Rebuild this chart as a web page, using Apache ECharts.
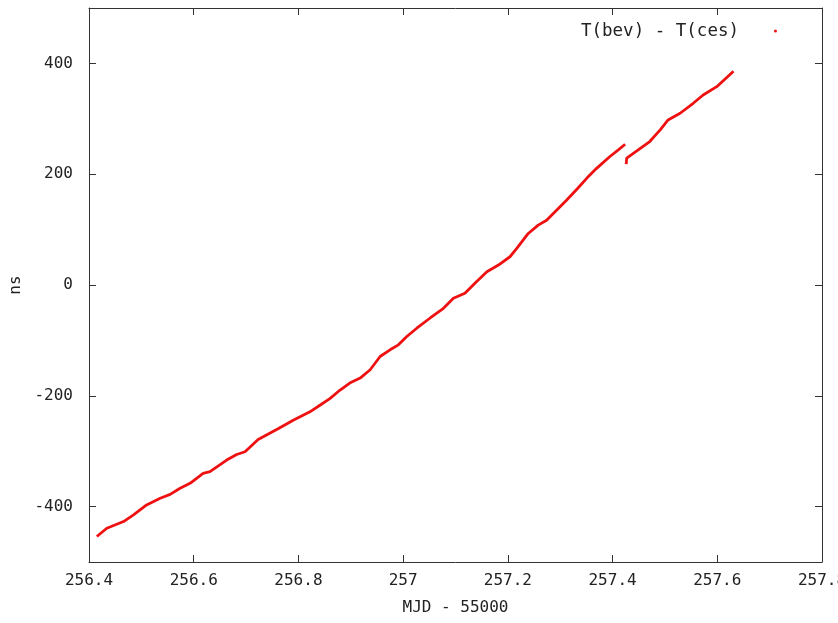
<!DOCTYPE html>
<html>
<head>
<meta charset="utf-8">
<title>T(bev) - T(ces)</title>
<script src="https://cdn.jsdelivr.net/npm/echarts@6/dist/echarts.min.js"></script>
<style>
  html, body { margin: 0; padding: 0; background: #fff; }
  #chart { width: 838px; height: 623px; }
</style>
</head>
<body>
<div id="chart"></div>
<script>
// Time offset between the two clocks, MJD - 55000 vs ns
const seriesName = 'T(bev) - T(ces)';

// First stretch, up to the step at ~257.42
const mjdA = [
  256.415, 256.434, 256.466, 256.485, 256.510, 256.536, 256.555, 256.574,
  256.593, 256.618, 256.631, 256.663, 256.682, 256.698, 256.723, 256.762,
  256.790, 256.822, 256.841, 256.860, 256.879, 256.898, 256.918, 256.937,
  256.956, 256.975, 256.991, 257.007, 257.026, 257.051, 257.077, 257.096,
  257.118, 257.140, 257.160, 257.182, 257.204, 257.217, 257.239, 257.258,
  257.274, 257.293, 257.312, 257.334, 257.351, 257.370, 257.395, 257.411,
  257.424
];
const nsA = [
  -454, -439, -427, -415, -397, -385, -378, -367,
  -358, -340, -337, -316, -306, -301, -279, -259,
  -244, -229, -217, -205, -190, -177, -168, -153,
  -129, -117, -108, -93, -78, -60, -42, -24,
  -15, 6, 24, 36, 51, 66, 93, 108,
  117, 135, 153, 175, 193, 211, 232, 244,
  254
];

// Second stretch, after the step
const mjdB = [
  257.426, 257.427, 257.449, 257.471, 257.491, 257.506, 257.529, 257.554,
  257.573, 257.599, 257.631
];
const nsB = [
  218, 229, 244, 259, 280, 298, 310, 328,
  343, 358, 386
];

const xTicks = [256.4, 256.6, 256.8, 257, 257.2, 257.4, 257.6, 257.8];
const yTicks = [-400, -200, 0, 200, 400];

// Build the plotted pairs; a null breaks the line at the step
const points = [];
mjdA.forEach((x, i) => points.push([x, nsA[i]]));
points.push([257.425, null]);
mjdB.forEach((x, i) => points.push([x, nsB[i]]));

const FONT = 'DejaVu Sans Mono';
const TXT = '#222';
const AXIS = '#333';

const chart = echarts.init(document.getElementById('chart'), null, { renderer: 'canvas' });

const xBase = {
  type: 'value',
  min: 256.4,
  max: 257.8,
  axisLine: { show: true, onZero: false, lineStyle: { color: AXIS, width: 1 } },
  axisTick: { show: true, inside: true, length: 7, lineStyle: { color: AXIS }, customValues: xTicks },
  splitLine: { show: false }
};
const yBase = {
  type: 'value',
  min: -500,
  max: 500,
  axisLine: { show: true, onZero: false, lineStyle: { color: AXIS, width: 1 } },
  axisTick: { show: true, inside: true, length: 7, lineStyle: { color: AXIS }, customValues: yTicks },
  splitLine: { show: false }
};

chart.setOption({
  animation: false,
  backgroundColor: '#ffffff',
  grid: { left: 89, right: 16, top: 8, bottom: 61, outerBoundsMode: 'none', containLabel: false },
  legend: {
    data: [seriesName],
    right: 56,
    top: 17,
    align: 'right',
    icon: 'circle',
    itemWidth: 3,
    itemHeight: 3,
    textStyle: { fontFamily: FONT, fontSize: 17.5, color: TXT, padding: [0, 30, 0, 0] }
  },
  xAxis: [
    Object.assign({}, xBase, {
      position: 'bottom',
      name: 'MJD - 55000',
      nameLocation: 'middle',
      nameGap: 38,
      nameTextStyle: { fontFamily: FONT, fontSize: 16, color: TXT },
      axisLabel: {
        show: true, margin: 11, customValues: xTicks,
        fontFamily: FONT, fontSize: 16, color: TXT,
        formatter: v => String(parseFloat(v.toFixed(1)))
      }
    }),
    Object.assign({}, xBase, { position: 'top', axisLabel: { show: false } })
  ],
  yAxis: [
    Object.assign({}, yBase, {
      position: 'left',
      name: 'ns',
      nameLocation: 'middle',
      nameGap: 59,
      nameRotate: 90,
      nameTextStyle: { fontFamily: FONT, fontSize: 16, color: TXT },
      axisLabel: {
        show: true, margin: 16, customValues: yTicks,
        fontFamily: FONT, fontSize: 16, color: TXT
      }
    }),
    Object.assign({}, yBase, { position: 'right', axisLabel: { show: false } })
  ],
  series: [{
    name: seriesName,
    type: 'line',
    xAxisIndex: 0,
    yAxisIndex: 0,
    data: points,
    showSymbol: false,
    connectNulls: false,
    lineStyle: { color: '#ee1111', width: 2.8 },
    itemStyle: { color: '#ee1111' }
  }]
});
</script>
</body>
</html>
